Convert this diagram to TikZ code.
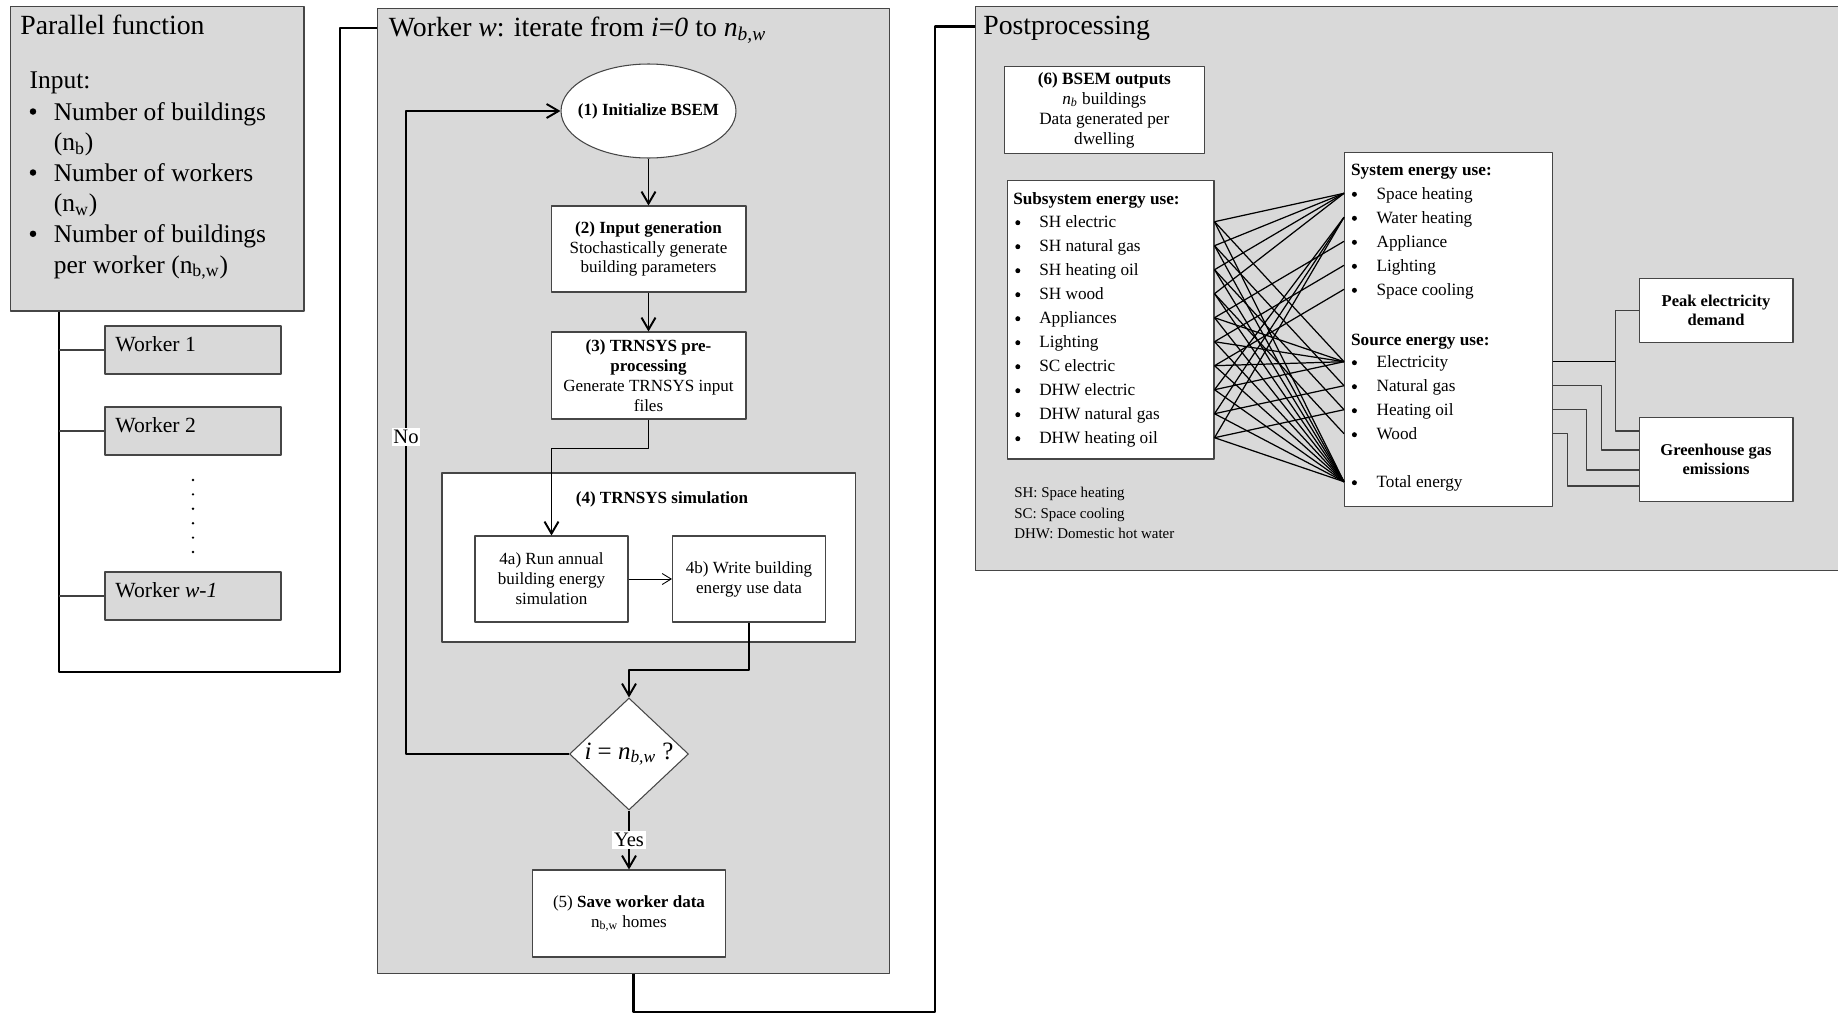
\documentclass[tikz,border=0pt]{standalone}
\usepackage{fontspec}
\setmainfont{Liberation Serif}
\usetikzlibrary{arrows.meta,shapes.geometric,positioning}
\definecolor{grigio}{RGB}{217,217,217}
\definecolor{bordo}{RGB}{70,70,70}

\begin{document}
\begin{tikzpicture}[x=0.02cm,y=-0.02cm,line join=round,
    pannello/.style={draw=bordo,line width=0.6pt,fill=grigio,inner sep=0pt},
    scatola/.style={draw=bordo,line width=0.6pt,fill=white,inner sep=0pt,align=center,
      font=\fontsize{9.7}{11.3}\selectfont},
    ellisse/.style={ellipse,draw=bordo,line width=0.6pt,fill=white,inner sep=0pt,
      minimum width=3.5cm,minimum height=1.88cm},
    rombo/.style={diamond,draw=bordo,line width=0.6pt,fill=white,inner sep=0pt,
      minimum width=2.38cm,minimum height=2.24cm,font=\fontsize{14.2}{16}\selectfont},
    grassetto/.style={inner sep=0pt,font=\bfseries\fontsize{9.7}{11.3}\selectfont},
    titolo/.style={inner sep=0pt,font=\fontsize{15.8}{19}\selectfont},
    voce/.style={inner sep=0pt,font=\fontsize{14.5}{17}\selectfont},
    wtesto/.style={inner sep=0pt,font=\fontsize{12.3}{14}\selectfont},
    elenco/.style={inner sep=0pt,text height=6.5pt,text depth=0pt,font=\fontsize{9.8}{12}\selectfont},
    legenda/.style={inner sep=0pt,text height=5.6pt,text depth=0pt,font=\fontsize{8.5}{10}\selectfont},
    etichetta/.style={fill=white,inner sep=1pt,font=\fontsize{11.7}{13}\selectfont},
    punto/.style={circle,fill,inner sep=0pt,minimum size=0.1cm},
    puntone/.style={circle,fill,inner sep=0pt,minimum size=0.13cm},
    bus/.style={line width=1.4pt},
    freccia/.style={line width=1.1pt,-{Straight Barb[length=2.4mm,width=2.8mm]}},
    freccina/.style={line width=0.5pt,-{Straight Barb[length=1.8mm,width=2.2mm]}},
    arco/.style={line width=0.7pt},
    alim/.style={line width=0.6pt,draw=black!75}]

  \useasboundingbox (0,0) rectangle (1838,1014);

  % ---- funzione parallela -------------------------------------------------
  \node[pannello,minimum width=5.88cm,minimum height=6.1cm] (par) at (157,158.5) {};
  \node[titolo,anchor=base west] (tpar) at (20,34) {Parallel function};
  \node[voce,anchor=base west] (inp) at (29.3,88.5) {Input:};
  \node[voce,anchor=base west] (p1) at (53.5,120) {Number of buildings};
  \node[voce,anchor=base west] (p2) at (53.5,150.7) {(n\textsubscript{b})};
  \node[voce,anchor=base west] (p3) at (53.5,181) {Number of workers};
  \node[voce,anchor=base west] (p4) at (53.5,211.7) {(n\textsubscript{w})};
  \node[voce,anchor=base west] (p5) at (53.5,242.3) {Number of buildings};
  \node[voce,anchor=base west] (p6) at (53.5,273) {per worker (n\textsubscript{b,w})};
  \foreach \y [count=\i] in {120,181,242.3}
    \node[puntone] (pb\i) at (33,\y-8.5) {};

  % ---- i worker ------------------------------------------------------------
  \node[pannello,minimum width=3.52cm,minimum height=0.96cm] (wk1) at (193,350) {};
  \node[pannello,minimum width=3.52cm,minimum height=0.96cm] (wk2) at (193,431) {};
  \node[pannello,minimum width=3.52cm,minimum height=0.96cm] (wk3) at (193,596) {};
  \node[wtesto,anchor=base west] (wl1) at (115,351) {Worker 1};
  \node[wtesto,anchor=base west] (wl2) at (115,432) {Worker 2};
  \node[wtesto,anchor=base west] (wl3) at (115,597) {Worker \textit{w-1}};
  \foreach \i in {0,...,5}
    \fill (193,{480+14.4*\i}) circle[radius=0.75pt];

  % ---- worker w: ciclo ------------------------------------------------------
  \node[pannello,minimum width=10.26cm,minimum height=19.32cm] (ww) at (633.5,491) {};
  \node[titolo,anchor=base west] (tww) at (388.6,36) {Worker \textit{w}: iterate from \textit{i}=\textit{0} to \textit{n}\textsubscript{\textit{b,w}}};

  \node[ellisse] (init) at (648.5,111) {};
  \node[grassetto] (tinit) at (init) {(1) Initialize BSEM};
  \node[scatola,minimum width=3.9cm,minimum height=1.72cm] (gen) at (648.5,249)
    {\textbf{(2) Input generation}\\Stochastically generate\\building parameters};
  \node[scatola,minimum width=3.9cm,minimum height=1.74cm] (pre) at (648.5,375.5)
    {\textbf{(3) TRNSYS pre-}\\\textbf{processing}\\Generate TRNSYS input\\files};
  \node[scatola,minimum width=8.27cm,minimum height=3.38cm] (sim) at (648.7,557.5) {};
  \node[grassetto] (tsim) at (662,499) {(4) TRNSYS simulation};
  \node[scatola,minimum width=3.06cm,minimum height=1.72cm] (run) at (551.5,579)
    {4a) Run annual\\building energy\\simulation};
  \node[scatola,minimum width=3.06cm,minimum height=1.72cm] (wrt) at (749,579)
    {4b) Write building\\energy use data};
  \node[rombo] (dec) at (629,754) {\textit{i} = \textit{n}\textsubscript{\textit{b,w}} ?};
  \node[scatola,minimum width=3.87cm,minimum height=1.74cm] (save) at (629,913.5)
    {(5) \textbf{Save worker data}\\n\textsubscript{b,w} homes};

  \draw[freccia] (init) -- (gen);
  \draw[freccia] (gen) -- (pre);
  \draw[freccia] (pre.south) -- ++(0,29) -| (run.north);
  \draw[freccina] (run) -- (wrt);
  \draw[freccia] (wrt.south) -- ++(0,47.5) -| (dec.north);
  \draw[freccia] (dec) -- (save) node[etichetta,midway] (si) {Yes};
  \coordinate (giro) at (406,437);
  \draw[freccia] (dec.west) -| (giro) |- (init.west);
  \node[etichetta] (no) at (giro) {No};

  % ---- postprocessing --------------------------------------------------------
  \node[pannello,minimum width=17.3cm,minimum height=11.3cm] (pp) at (1407.5,288.5) {};
  \node[titolo,anchor=base west] (tpp) at (983,34) {Postprocessing};

  \node[scatola,minimum width=4.0cm,minimum height=1.73cm,font=\fontsize{9.8}{11.4}\selectfont] (bsem) at (1104.3,110)
    {\textbf{(6) BSEM outputs}\\\textit{n}\textsubscript{\textit{b}} buildings\\Data generated per\\dwelling};

  \node[scatola,minimum width=4.14cm,minimum height=5.566cm] (sub) at (1110.5,319.85) {};
  \node[elenco,anchor=west] (hsub) at (1012.9,198.3) {\textbf{Subsystem energy use:}};
  \foreach \t [count=\i] in {SH electric,SH natural gas,SH heating oil,SH wood,Appliances,
      Lighting,SC electric,DHW electric,DHW natural gas,DHW heating oil}{
    \node[elenco,anchor=west] (su\i) at (1038.9,{197.7+24*\i}) {\t};
    \node[punto] (sb\i) at (1017.8,{198.7+24*\i}) {};
  }

  \node[scatola,minimum width=4.16cm,minimum height=7.08cm] (sys) at (1448.5,329.7) {};
  \node[elenco,anchor=west] (hsys) at (1350.8,170) {\textbf{System energy use:}};
  \node[elenco,anchor=west] (hsrc) at (1350.8,339.3) {\textbf{Source energy use:}};
  \foreach \y/\t [count=\i] in {193.3/Space heating,217.3/Water heating,241.3/Appliance,
      265.3/Lighting,289.3/Space cooling,361.7/Electricity,385.7/Natural gas,
      409.7/Heating oil,433.7/Wood,481.7/Total energy}{
    \node[elenco,anchor=west] (sy\i) at (1376.2,\y) {\t};
    \node[punto] (yb\i) at (1354.4,\y+1) {};
  }

  \node[legenda,anchor=west] (lg1) at (1014,492.7) {SH: Space heating};
  \node[legenda,anchor=west] (lg2) at (1014,513.5) {SC: Space cooling};
  \node[legenda,anchor=west] (lg3) at (1014,534) {DHW: Domestic hot water};

  % sottosistemi -> usi finali, fonti, totale
  \foreach \a/\b in {1/1,1/6,1/10,2/1,2/7,2/10,3/1,3/8,3/10,4/1,4/9,4/10,
      5/3,5/6,5/10,6/4,6/6,6/10,7/5,7/6,7/10,8/2,8/6,8/10,9/2,9/7,9/10,10/2,10/8,10/10}
    \draw[arco] (sub.east |- su\a) -- (sys.west |- sy\b);

  \node[scatola,minimum width=3.08cm,minimum height=1.29cm,font=\bfseries\fontsize{9.4}{10.8}\selectfont] (peak) at (1716,310.3)
    {Peak electricity\\demand};
  \node[scatola,minimum width=3.08cm,minimum height=1.67cm,font=\bfseries\fontsize{9.4}{10.8}\selectfont] (ghg) at (1716,459.3)
    {Greenhouse gas\\emissions};

  \coordinate (nodoE) at (1615.7,361.7);
  \draw[alim,draw=black] (sys.east |- sy6) -- (nodoE);
  \draw[alim] (nodoE) |- (peak.west);
  \draw[alim] (nodoE) |- ([yshift=0.566cm]ghg.west);
  \draw[alim] (sys.east |- sy7) -- ++(48.5,0) |- ([yshift=0.186cm]ghg.west);
  \draw[alim] (sys.east |- sy8) -- ++(33.5,0) |- ([yshift=-0.214cm]ghg.west);
  \draw[alim] (sys.east |- sy9) -- ++(14.5,0) |- ([yshift=-0.534cm]ghg.west);

  % ---- collegamenti tra i riquadri ---------------------------------------------
  \coordinate (busL) at (59,672);
  \coordinate (busR) at (340,28);
  \coordinate (busB) at (935,1012);
  \draw[bus] (par.south -| busL) -- (busL) -| (busR) -- (ww.west |- busR);
  \foreach \k in {1,2,3}
    \draw[alim] (busL |- wk\k.west) -- (wk\k.west);
  \draw[bus] (ww.south) |- (busB) |- ([yshift=-0.42cm]pp.north west);

\end{tikzpicture}
\end{document}
